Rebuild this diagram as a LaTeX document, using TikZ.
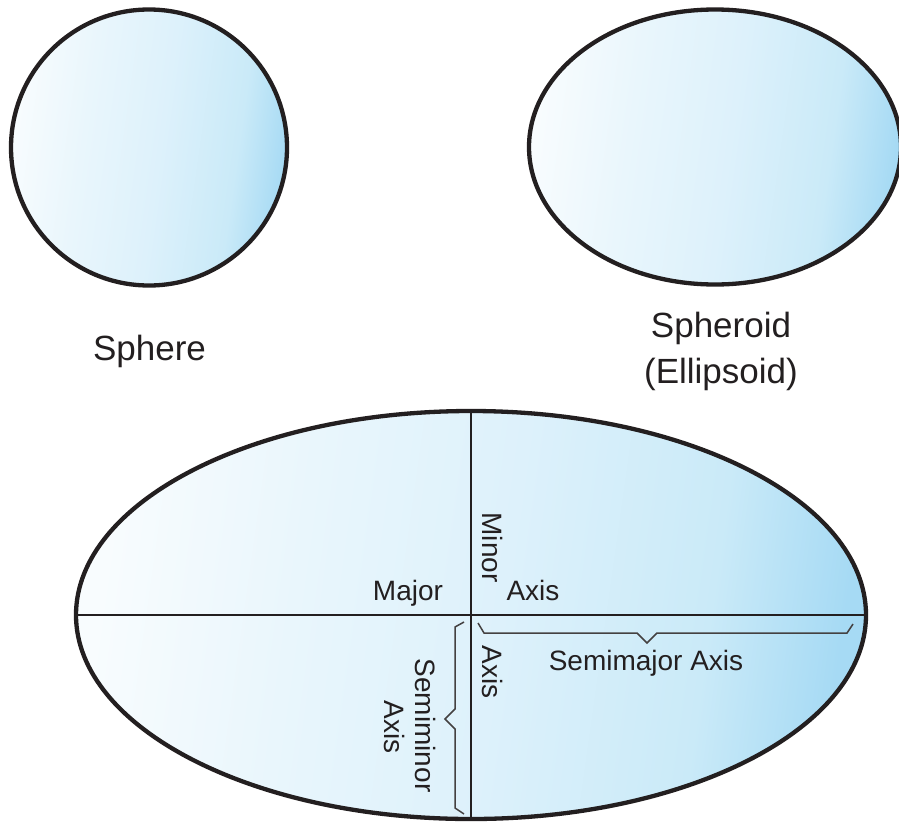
\documentclass[tikz,border=0pt]{standalone}
\usepackage{fontspec}
\setmainfont{Liberation Sans}
\usetikzlibrary{shapes.geometric}
\definecolor{outline}{HTML}{231F20}
\definecolor{sky0}{HTML}{F8FCFE}
\definecolor{skyA}{HTML}{E9F6FC}
\definecolor{skyB}{HTML}{DDF1FB}
\definecolor{skyC}{HTML}{CAEAF8}
\definecolor{skyD}{HTML}{A6DAF4}
\pgfdeclarehorizontalshading{skyshade}{100bp}{color(0bp)=(sky0); color(25bp)=(sky0); color(38bp)=(skyA); color(52bp)=(skyB); color(66bp)=(skyC); color(75bp)=(skyD); color(100bp)=(skyD)}
\tikzset{
  body/.style={ellipse, draw=outline, line width=4.3pt, shading=skyshade, shading angle=-8, inner sep=0pt, outer sep=0pt},
  axisline/.style={draw=outline, line width=1.8pt},
  bracket/.style={draw=outline!85!white, line width=1.5pt, line join=miter},
  biglabel/.style={font=\fontsize{35}{46}\selectfont, text=outline, inner sep=0pt},
  smalllabel/.style={font=\fontsize{28}{32}\selectfont, text=outline, inner sep=0pt, anchor=base}
}
\begin{document}
\begin{tikzpicture}[x=1pt,y=-1pt]
\useasboundingbox (0,0) rectangle (899,822);
% top shapes
\node[body, minimum width=276pt, minimum height=276pt] (sphere) at (149,147.5) {};
\node[body, minimum width=372pt, minimum height=275pt] (spheroid) at (715,147) {};
\node[biglabel, anchor=base] (spherelbl) at (149.5,360) {Sphere};
\node[biglabel, anchor=base] (spheroidlbl) at (721,337) {Spheroid};
\node[biglabel, anchor=base] (ellipsoidlbl) at (721,383) {(Ellipsoid)};
% big ellipse
\node[body, minimum width=790pt, minimum height=408pt] (big) at (471,615) {};
\draw[axisline] (big.north) -- (big.south);
\draw[axisline] (big.west) -- (big.east);
% labels
\node[smalllabel] (major) at (408,600) {Major};
\node[smalllabel] (axisA) at (533,600) {Axis};
\node[smalllabel, rotate=-90] (minor) at (482,547.5) {Minor};
\node[smalllabel, rotate=-90] (axisB) at (482,672) {Axis};
\node[smalllabel] (semimajor) at (646,670) {Semimajor Axis};
\node[smalllabel, rotate=-90] (semiminor) at (415,725.5) {Semiminor};
\node[smalllabel, rotate=-90] (axisC) at (384,727) {Axis};
% braces
\draw[bracket] (478,623) -- (484,633) -- (637,633) -- (647,643) -- (657,633) -- (847,633) -- (853,624);
\draw[bracket] (464,622) -- (455,627) -- (455,709) -- (445,719) -- (455,729) -- (455,808) -- (464,814);
\end{tikzpicture}
\end{document}
